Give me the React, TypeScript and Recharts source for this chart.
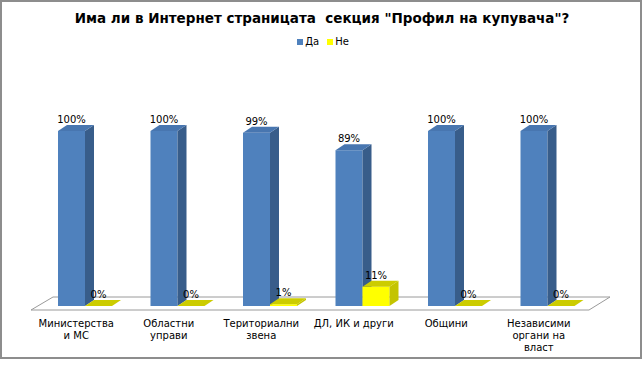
import React from "react";
import { BarChart, Bar, XAxis, YAxis, Legend, LabelList, ReferenceArea } from "recharts";

const categories = [
  "Министерства\nи МС",
  "Областни\nуправи",
  "Териториални\nзвена",
  "ДЛ, ИК и други",
  "Общини",
  "Независими\nоргани на\nвласт",
];
const yesValues = [100, 100, 99, 89, 100, 100];
const noValues = [0, 0, 1, 11, 0, 0];
const seriesNames = ["Да", "Не"];
const title = 'Има ли в Интернет страницата  секция "Профил на купувача"?';

const data = categories.map((c, i) => ({ name: c, yes: yesValues[i], no: noValues[i] }));

const FONT = "'DejaVu Sans', Verdana, sans-serif";
const DX = 9;
const DY = 6;

const palettes: Record<string, { front: string; side: string; top: string }> = {
  yes: { front: "#4F81BD", side: "#385D8A", top: "#4876B0" },
  no: { front: "#FFFF00", side: "#C4C400", top: "#CCCC00" },
};

const make3DShape = (key: string) => (props: any) => {
  const { x, y, width, height } = props;
  const p = palettes[key];
  const w = width;
  const h = Math.max(0, height);
  return (
    <g>
      {h > 0 && <rect x={x} y={y} width={w} height={h} fill={p.front} />}
      {h > 0 && (
        <polygon
          points={`${x + w},${y} ${x + w + DX},${y - DY} ${x + w + DX},${y + h - DY} ${x + w},${y + h}`}
          fill={p.side}
        />
      )}
      <polygon
        points={`${x},${y} ${x + DX},${y - DY} ${x + w + DX},${y - DY} ${x + w},${y}`}
        fill={p.top}
      />
    </g>
  );
};

const FloorShape = (props: any) => {
  const { x, y, width, height } = props;
  const base = y + height;
  const pts = `${x - 8},${base + 4} ${x + 14},${base - 9} ${x + width + 16},${base - 9} ${x + width - 5},${base + 4}`;
  return <polygon points={pts} fill="#ffffff" stroke="#9a9a9a" strokeWidth={1} />;
};

const CatTick = (props: any) => {
  const { x, y, payload } = props;
  const lines = String(payload.value).split("\n");
  return (
    <text x={x - 9} y={y} textAnchor="middle" fontFamily={FONT} fontSize={10} fill="#000">
      {lines.map((l, i) => (
        <tspan key={i} x={x - 9} dy={i === 0 ? 13 : 12}>
          {l}
        </tspan>
      ))}
    </text>
  );
};

const ValueLabel = (props: any) => {
  const { x, y, width, value } = props;
  return (
    <text x={x + width / 2} y={y - 8} textAnchor="middle" fontFamily={FONT} fontSize={10} fill="#000">
      {value}%
    </text>
  );
};

const renderLegend = () => (
  <div
    style={{
      display: "flex",
      justifyContent: "center",
      alignItems: "center",
      fontFamily: FONT,
      fontSize: 10,
      color: "#000",
      paddingLeft: 2,
    }}
  >
    {seriesNames.map((n, i) => (
      <div key={n} style={{ display: "flex", alignItems: "center", marginRight: i === 0 ? 8 : 0 }}>
        <span
          style={{
            display: "inline-block",
            width: 6,
            height: 6,
            background: i === 0 ? palettes.yes.front : palettes.no.front,
            marginRight: 2,
          }}
        />
        <span>{n}</span>
      </div>
    ))}
  </div>
);

export default function App() {
  return (
    <div style={{ position: "absolute", left: 0, top: 0, width: 644, height: 376, background: "#fff" }}>
      <div
        style={{
          position: "absolute",
          left: 0,
          top: 0,
          width: 642,
          height: 359,
          boxSizing: "border-box",
          border: "2px solid #8d8d8d",
        }}
      />
      <div
        style={{
          position: "absolute",
          left: 0,
          top: 10,
          width: 644,
          textAlign: "center",
          whiteSpace: "pre",
          fontFamily: FONT,
          fontWeight: "bold",
          fontSize: 13.5,
          lineHeight: "16px",
          color: "#000",
        }}
      >
        {title}
      </div>
      <div style={{ position: "absolute", left: 0, top: 0 }}>
        <BarChart
          width={644}
          height={376}
          data={data}
          margin={{ top: 131, right: 50, bottom: 0, left: 39 }}
          barGap={0}
          barSize={27}
        >
          <XAxis
            dataKey="name"
            height={70}
            axisLine={false}
            tickLine={false}
            interval={0}
            tick={<CatTick />}
          />
          <YAxis hide domain={[0, 100]} />
          <ReferenceArea y1={0} y2={1} ifOverflow="visible" shape={<FloorShape />} />
          <Legend
            layout="horizontal"
            verticalAlign="middle"
            align="center"
            wrapperStyle={{ top: 36, left: 0, width: 644 }}
            content={renderLegend}
          />
          <Bar dataKey="yes" name={seriesNames[0]} fill={palettes.yes.front} shape={make3DShape("yes")} isAnimationActive={false}>
            <LabelList dataKey="yes" content={<ValueLabel />} />
          </Bar>
          <Bar dataKey="no" name={seriesNames[1]} fill={palettes.no.front} shape={make3DShape("no")} isAnimationActive={false}>
            <LabelList dataKey="no" content={<ValueLabel />} />
          </Bar>
        </BarChart>
      </div>
    </div>
  );
}
